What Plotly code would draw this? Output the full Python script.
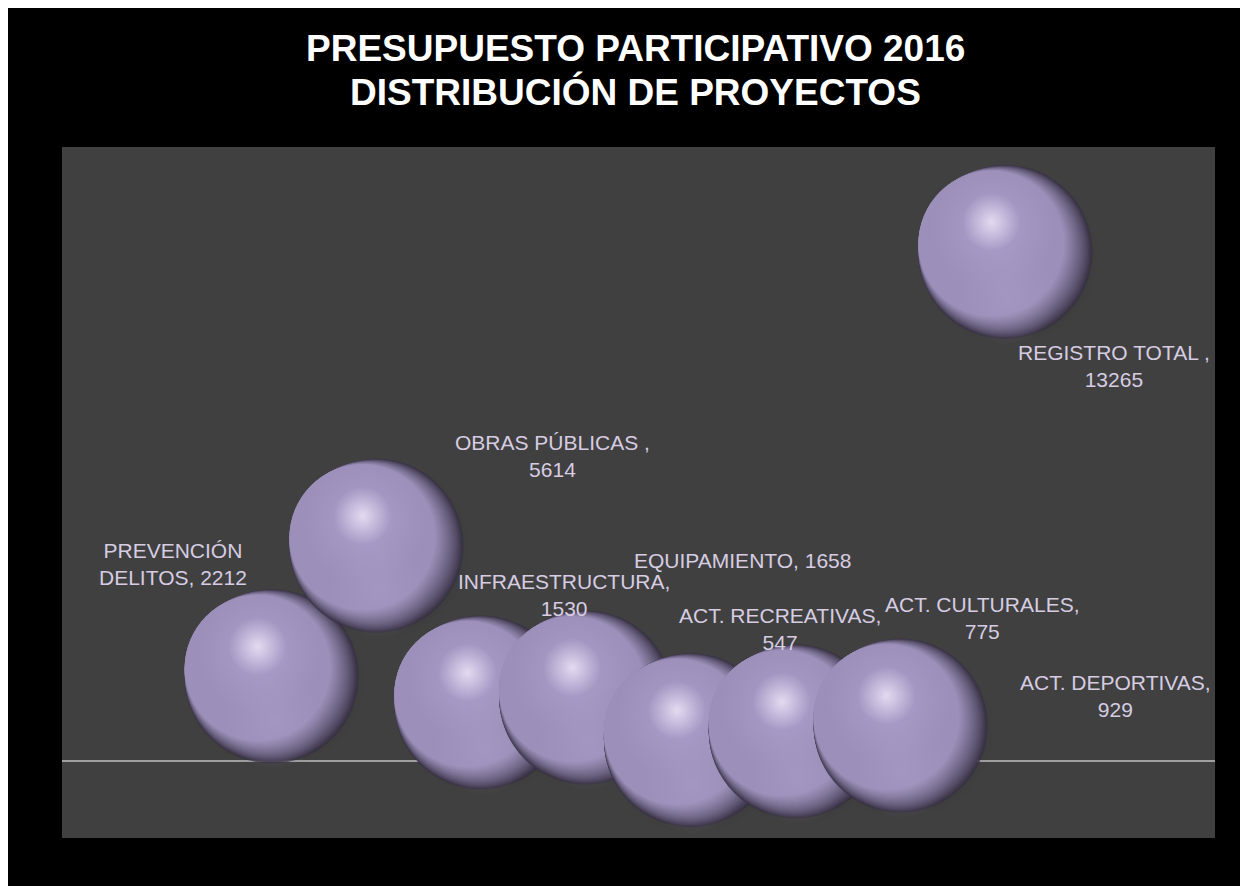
import plotly.graph_objects as go

categories = ["PREVENCIÓN DELITOS", "OBRAS PÚBLICAS ", "INFRAESTRUCTURA", "EQUIPAMIENTO",
              "ACT. RECREATIVAS", "ACT. CULTURALES", "ACT. DEPORTIVAS", "REGISTRO TOTAL "]
label_text = ["PREVENCIÓN<br>DELITOS, 2212", "OBRAS PÚBLICAS ,<br>5614", "INFRAESTRUCTURA,<br>1530",
              "EQUIPAMIENTO, 1658", "ACT. RECREATIVAS,<br>547", "ACT. CULTURALES,<br>775",
              "ACT. DEPORTIVAS,<br>929", "REGISTRO TOTAL ,<br>13265"]
x_pos = [1, 2, 3, 4, 5, 6, 7, 8]
values = [2212, 5614, 1530, 1658, 547, 775, 929, 13265]
title_lines = ["PRESUPUESTO PARTICIPATIVO 2016", "DISTRIBUCIÓN DE PROYECTOS"]

# label offsets in pixels (dx right, dy up)
label_dx = [-99, 176, 83, 156, 89, 187, 215, 109]
label_dy = [112, 90, 107, 137, 111, 113, 30, -114]

X_RANGE = [-1, 10]
Y_RANGE = [-2000, 16000]
FIG_W, FIG_H = 1240, 878
M = dict(l=54, r=33, t=139, b=48)
plot_w = FIG_W - M["l"] - M["r"]
plot_h = FIG_H - M["t"] - M["b"]
ux = (X_RANGE[1] - X_RANGE[0]) / plot_w   # data units per px
uy = (Y_RANGE[1] - Y_RANGE[0]) / plot_h

D = 174

# sphere shading layers: (dx px, dy px (down), size, edge colour, centre colour, gradient type)
dark = (54, 47, 66)
body = (158, 145, 187)
layers = [(3, 4, D + 8, "rgba(0,0,0,0)", "rgba(0,0,0,0.55)", "radial")]
N = 20
for k in range(N + 1):
    t = (k / N) ** 0.75
    c = tuple(round(dark[i] + (body[i] - dark[i]) * t) for i in range(3))
    col = "rgb(%d,%d,%d)" % c
    layers.append((-0.7 * k, -0.42 * k, D - 1.4 * k, col, col, "none"))
layers += [
    (2, 44, 100, "rgba(172,160,202,0)", "rgba(175,162,205,0.55)", "radial"),
    (-12, -24, 125, "rgba(178,165,212,0)", "rgba(190,177,222,0.75)", "radial"),
    (-14, -30, 58, "rgba(245,232,255,0)", "rgba(252,244,255,1)", "radial"),
]

fig = go.Figure()
for xi, v in zip(x_pos, values):
    fig.add_trace(go.Scatter(
        x=[xi + L[0] * ux for L in layers],
        y=[v - L[1] * uy for L in layers],
        mode="markers",
        marker=dict(size=[L[2] for L in layers], color=[L[3] for L in layers],
                    gradient=dict(type=[L[5] for L in layers], color=[L[4] for L in layers]),
                    line=dict(width=0)),
        hoverinfo="skip", showlegend=False))

for xi, v, t, dx, dy in zip(x_pos, values, label_text, label_dx, label_dy):
    fig.add_annotation(x=xi, y=v, text=t, showarrow=False, xshift=dx, yshift=dy,
                       xanchor="center", yanchor="middle", align="center",
                       font=dict(family="Liberation Sans, Arial", size=21, color="#d6cde2"))

for line, ys in zip(title_lines, [99, 55.5]):
    fig.add_annotation(x=0.5, y=1, xref="paper", yref="paper", text="<b>%s</b>" % line,
                       showarrow=False, xanchor="center", yanchor="middle", xshift=-3, yshift=ys,
                       font=dict(family="Liberation Sans, Arial", size=37, color="#ffffff"))

fig.update_layout(
    width=FIG_W, height=FIG_H, margin=M,
    paper_bgcolor="#000000", plot_bgcolor="#404040",
    xaxis=dict(range=X_RANGE, showgrid=False, zeroline=False, showticklabels=False,
               ticks="", showline=False, fixedrange=True),
    yaxis=dict(range=Y_RANGE, showgrid=False, zeroline=True, zerolinecolor="#a0a0a0",
               zerolinewidth=2, showticklabels=False, ticks="", showline=False, fixedrange=True),
    showlegend=False,
)

fig.write_html("out.html", config={"displayModeBar": False})
